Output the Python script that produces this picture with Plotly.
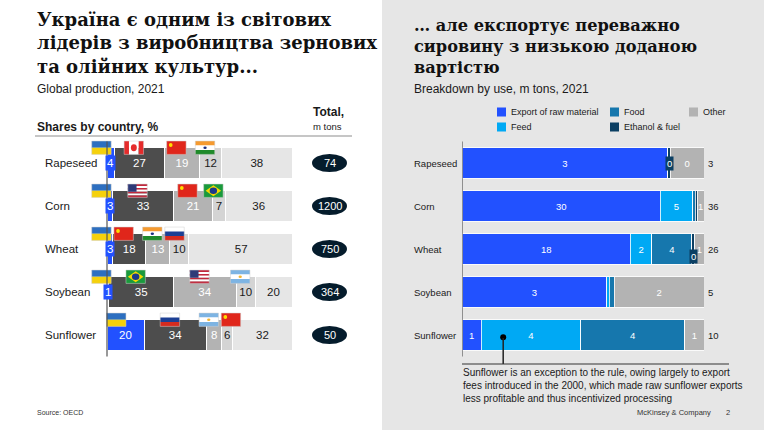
import plotly.graph_objects as go

# rows
crops = ["Rapeseed", "Corn", "Wheat", "Soybean", "Sunflower"]

# Left panel: shares of global production by country, %
ukraine_share = [4, 3, 3, 1, 20]
first_share = [27, 33, 18, 35, 34]
second_share = [19, 21, 13, 34, 8]
third_share = [12, 7, 10, 10, 6]
others_share = [38, 36, 57, 20, 32]
first_country = ["CA", "US", "CN", "BR", "RU"]
second_country = ["CN", "CN", "IN", "US", "AR"]
third_country = ["IN", "BR", "RU", "AR", "CN"]
global_total = [74, 1200, 750, 364, 50]

# Right panel: breakdown of Ukrainian crops by use, m tons
export_raw = [2.57, 29.6, 18.1, 3.0, 0.8]
feed = [0.0, 4.8, 2.3, 0.05, 4.1]
food = [0.0, 0.4, 4.3, 0.1, 4.3]
ethanol_fuel = [0.03, 0.3, 0.3, 0.0, 0.0]
other_use = [0.42, 1.0, 1.0, 1.86, 0.8]
use_total = [3, 36, 26, 5, 10]
ethanol_tag_rows = ["Rapeseed", "Wheat"]   # rows where the tiny ethanol value is tagged

W, H = 764, 430
BLUE = "#2251ff"
NAVY = "#051c2c"
TXT = "#1a1a1a"


def px(x):
    return x / W


def py(y):
    return 1 - y / H


ypos = list(range(len(crops)))
fig = go.Figure()

# ---------- left panel: stacked shares ----------
left_series = [
    ("Ukraine", ukraine_share, BLUE, "white"),
    ("Leader 1", first_share, "#4d4d4d", "white"),
    ("Leader 2", second_share, "#b3b3b3", "white"),
    ("Leader 3", third_share, "#d4d4d4", TXT),
    ("Others", others_share, "#e6e6e6", TXT),
]
for name, vals, col, tcol in left_series:
    labels = [str(v) if (name != "Ukraine" or v >= 10) else "" for v in vals]
    fig.add_trace(go.Bar(
        x=vals, y=ypos, orientation="h", name=name, showlegend=False,
        marker=dict(color=col, line=dict(color="white", width=1)),
        text=labels, textposition="inside", insidetextanchor="middle",
        constraintext="none", textangle=0,
        textfont=dict(size=11.5, color=tcol),
        xaxis="x", yaxis="y", hoverinfo="skip",
    ))

# ---------- right panel: stacked use (share of total, labelled in m tons) ----------
use_series = [
    ("Export of raw material", export_raw, BLUE),
    ("Feed", feed, "#00a9f4"),
    ("Food", food, "#1677ad"),
    ("Ethanol & fuel", ethanol_fuel, "#0b3f63"),
    ("Other", other_use, "#b3b3b3"),
]
use_colors = {n: c for n, _, c in use_series}
row_sums = [sum(s[1][i] for s in use_series) for i in ypos]
use_shares = {}
for name, vals, col in use_series:
    shares = [100 * v / row_sums[i] for i, v in enumerate(vals)]
    use_shares[name] = shares
    labels = [str(round(v)) if sh >= 2.5 else "" for v, sh in zip(vals, shares)]
    fig.add_trace(go.Bar(
        x=shares, y=ypos, orientation="h", name=name, showlegend=False,
        marker=dict(color=col, line=dict(color="white", width=0.8)),
        text=labels, textposition="inside", insidetextanchor="middle",
        constraintext="none", textangle=0,
        textfont=dict(size=9.5, color="white"),
        xaxis="x2", yaxis="y2", hoverinfo="skip",
    ))

shapes = []
annotations = []

# right panel background
shapes.append(dict(type="rect", xref="paper", yref="paper", x0=px(382), x1=1, y0=0, y1=1,
                   fillcolor="#e6e6e6", line=dict(width=0), layer="below"))


# ---------- flags ----------
FW, FH = 10.5, 0.31   # flag size in axis units (%, rows)


def stripes(x0, top, colors, vertical=False, fracs=None):
    n = len(colors)
    fracs = fracs or [i / n for i in range(n + 1)]
    out = []
    for k, c in enumerate(colors):
        if vertical:
            box = dict(x0=x0 + fracs[k] * FW, x1=x0 + fracs[k + 1] * FW, y0=top, y1=top + FH)
        else:
            box = dict(x0=x0, x1=x0 + FW, y0=top + fracs[k] * FH, y1=top + fracs[k + 1] * FH)
        out.append(dict(type="rect", xref="x", yref="y", fillcolor=c, line=dict(width=0), **box))
    return out


def dot(cx, cy, rx, ry, color):
    return dict(type="circle", xref="x", yref="y", x0=cx - rx, x1=cx + rx, y0=cy - ry, y1=cy + ry,
                fillcolor=color, line=dict(width=0))


def flag(code, xc, row):
    x0 = xc - FW / 2
    top = row - 0.51
    cx, cy = xc, top + FH / 2
    if code == "UA":
        s = stripes(x0, top, ["#2d6fc0", "#f5d10c"])
    elif code == "RU":
        s = stripes(x0, top, ["#ffffff", "#1c3f94", "#d52b1e"])
    elif code == "IN":
        s = stripes(x0, top, ["#f59a2f", "#ffffff", "#1f8a2a"]) + [dot(cx, cy, 0.9, 0.03, "#1c2f80")]
    elif code == "AR":
        s = stripes(x0, top, ["#7db4e3", "#ffffff", "#7db4e3"]) + [dot(cx, cy, 0.9, 0.03, "#f2b632")]
    elif code == "CA":
        s = stripes(x0, top, ["#e52b2b", "#ffffff", "#e52b2b"], vertical=True, fracs=[0, 0.25, 0.75, 1])
        s.append(dot(cx, cy, 1.6, 0.08, "#e52b2b"))
    elif code == "CN":
        s = stripes(x0, top, ["#e0261b"]) + [dot(x0 + 2.2, top + 0.09, 1.0, 0.045, "#ffde00")]
    elif code == "US":
        cols = ["#c0283c" if k % 2 == 0 else "#ffffff" for k in range(7)]
        s = stripes(x0, top, cols)
        s.append(dict(type="rect", xref="x", yref="y", x0=x0, x1=x0 + 0.45 * FW, y0=top,
                      y1=top + 0.57 * FH, fillcolor="#2e3a78", line=dict(width=0)))
    elif code == "BR":
        s = stripes(x0, top, ["#1a9a3c"])
        d = (f"M{x0 + 0.1 * FW},{cy} L{cx},{top + 0.08 * FH} L{x0 + 0.9 * FW},{cy} "
             f"L{cx},{top + 0.92 * FH} Z")
        s.append(dict(type="path", xref="x", yref="y", path=d, fillcolor="#f5d800", line=dict(width=0)))
        s.append(dot(cx, cy, 2.0, 0.075, "#1c3a8a"))
    else:
        s = []
    s.append(dict(type="rect", xref="x", yref="y", x0=x0, x1=x0 + FW, y0=top, y1=top + FH,
                  fillcolor="rgba(0,0,0,0)", line=dict(color="#cfcfcf", width=0.5)))
    return s


for i in ypos:
    prev = max(ukraine_share[i] / 2 - 5, -3)
    shapes += flag("UA", prev, i)
    start = ukraine_share[i]
    for share, codes in [(first_share, first_country), (second_share, second_country),
                         (third_share, third_country)]:
        xc = max(start + share[i] / 2 - 3, prev + FW + 1.5)
        shapes += flag(codes[i], xc, i)
        prev = xc
        start += share[i]

# small Ukraine values shown in a blue tag
for i in ypos:
    if ukraine_share[i] < 10:
        annotations.append(dict(x=ukraine_share[i] / 2, y=i, xref="x", yref="y", text=str(ukraine_share[i]),
                                showarrow=False, bgcolor=BLUE, borderpad=1,
                                font=dict(size=11.5, color="white")))

# axis lines
for xr, yr in [("x", "y"), ("x2", "y2")]:
    shapes.append(dict(type="line", xref=xr, yref=yr, x0=0, x1=0, y0=-0.5, y1=4.5,
                       line=dict(color="#555555", width=1.2)))

# row labels
for i, c in enumerate(crops):
    annotations.append(dict(x=px(43), y=i, xref="paper", yref="y", text=c, xanchor="left",
                            showarrow=False, font=dict(size=11.5, color=TXT)))
    annotations.append(dict(x=px(412), y=i, xref="paper", yref="y2", text=c, xanchor="left",
                            showarrow=False, font=dict(size=9.5, color=TXT)))

# global totals in dark ovals
for i, t in enumerate(global_total):
    shapes.append(dict(type="circle", xref="paper", yref="y", x0=px(312), x1=px(347),
                       y0=i - 0.21, y1=i + 0.21, fillcolor=NAVY, line=dict(width=0)))
    annotations.append(dict(x=px(329.5), y=i, xref="paper", yref="y", text=str(t), showarrow=False,
                            font=dict(size=11, color="white")))

# use totals at bar ends
for i, t in enumerate(use_total):
    annotations.append(dict(x=100, y=i, xref="x2", yref="y2", text=str(t), xanchor="left", xshift=2,
                            showarrow=False, font=dict(size=9.5, color=TXT)))

# tiny ethanol values shown in a dark tag
eth = use_shares["Ethanol & fuel"]
for i, c in enumerate(crops):
    if c in ethanol_tag_rows:
        start = sum(use_shares[n][i] for n in ["Export of raw material", "Feed", "Food"])
        annotations.append(dict(x=start + eth[i] / 2, y=i, xref="x2", yref="y2", text=str(round(ethanol_fuel[i])),
                                showarrow=False, bgcolor=use_colors["Ethanol & fuel"], borderpad=1,
                                yshift=-7 if use_shares["Other"][i] < 5 else 0,
                                font=dict(size=9.5, color="white")))

# call-out on sunflower
sun = crops.index("Sunflower")
cx = use_shares["Export of raw material"][sun] + 0.22 * use_shares["Feed"][sun]
fig.add_trace(go.Scatter(x=[cx], y=[sun + 0.05], mode="markers", showlegend=False, hoverinfo="skip",
                         marker=dict(color="black", size=6), xaxis="x2", yaxis="y2"))
shapes.append(dict(type="line", xref="x2", yref="paper", x0=cx, x1=cx, y0=py(338), y1=py(364),
                   line=dict(color="#222222", width=1.5)))
shapes.append(dict(type="line", xref="paper", yref="paper", x0=px(462), x1=px(729), y0=py(364), y1=py(364),
                   line=dict(color="#333333", width=1.2)))
annotations.append(dict(x=px(461), y=py(365), xref="paper", yref="paper", xanchor="left", yanchor="top",
                        align="left", showarrow=False, font=dict(size=10, color=TXT),
                        text="Sunflower is an exception to the rule, owing largely to export<br>"
                             "fees introduced in the 2000, which made raw sunflower exports<br>"
                             "less profitable and thus incentivized processing"))

# header line on the left
shapes.append(dict(type="line", xref="paper", yref="paper", x0=px(35), x1=px(352), y0=py(136), y1=py(136),
                   line=dict(color="#b3b3b3", width=1.5)))

# legend grid (3 columns x 2 rows)
legend_cells = {"Export of raw material": (497, 112), "Feed": (497, 127), "Food": (610, 112),
                "Ethanol & fuel": (610, 127), "Other": (689, 112)}
for name, (x, y) in legend_cells.items():
    shapes.append(dict(type="rect", xref="paper", yref="paper", x0=px(x), x1=px(x + 9),
                       y0=py(y + 4.5), y1=py(y - 4.5), fillcolor=use_colors[name], line=dict(width=0)))
    annotations.append(dict(x=px(x + 12), y=py(y), xref="paper", yref="paper", text=name,
                            xanchor="left", yanchor="middle", showarrow=False,
                            font=dict(size=9, color=TXT)))

SERIF = "DejaVu Serif"
texts = [
    (35, 7, "<b>Україна є одним із світових<br>лідерів з виробництва зернових<br>та олійних культур...</b>",
     dict(family=SERIF, size=18, color="#111111"), "top"),
    (412, 14, "<b>… але експортує переважно<br>сировину з низькою доданою<br>вартістю</b>",
     dict(family=SERIF, size=16.2, color="#111111"), "top"),
    (35, 89, "Global production, 2021", dict(size=12, color=TXT), "middle"),
    (412, 89, "Breakdown by use, m tons, 2021", dict(size=12, color=TXT), "middle"),
    (35, 127, "<b>Shares by country, %</b>", dict(size=12, color=TXT), "middle"),
    (311, 112, "<b>Total,</b>", dict(size=12, color=TXT), "middle"),
    (311, 127, "m tons", dict(size=9.5, color=TXT), "middle"),
    (35, 412, "Source: OECD", dict(size=7, color="#333333"), "middle"),
    (635, 412, "McKinsey & Company", dict(size=7.5, color="#333333"), "middle"),
    (724, 412, "2", dict(size=7.5, color="#333333"), "middle"),
]
for x, y, t, f, ya in texts:
    annotations.append(dict(x=px(x), y=py(y), xref="paper", yref="paper", text=t, font=f,
                            xanchor="left", yanchor=ya, align="left", showarrow=False))

yr = [4.6, -0.6]
ydom = [1 - 360.8 / H, 1 - 137.2 / H]
fig.update_layout(
    width=W, height=H, margin=dict(l=0, r=0, t=0, b=0),
    paper_bgcolor="white", plot_bgcolor="rgba(0,0,0,0)",
    font=dict(family="Liberation Sans, Arial", color=TXT),
    barmode="stack", bargap=0.3, showlegend=False,
    xaxis=dict(domain=[px(88.5), px(292)], range=[-10, 100], visible=False, anchor="y"),
    yaxis=dict(domain=ydom, range=yr, visible=False, anchor="x"),
    xaxis2=dict(domain=[px(462), px(704)], range=[0, 100], visible=False, anchor="y2"),
    yaxis2=dict(domain=ydom, range=yr, visible=False, anchor="x2"),
    shapes=shapes, annotations=annotations,
)

fig.write_html("out.html", config={"displayModeBar": False},
               post_script="document.body.style.margin='0';")
